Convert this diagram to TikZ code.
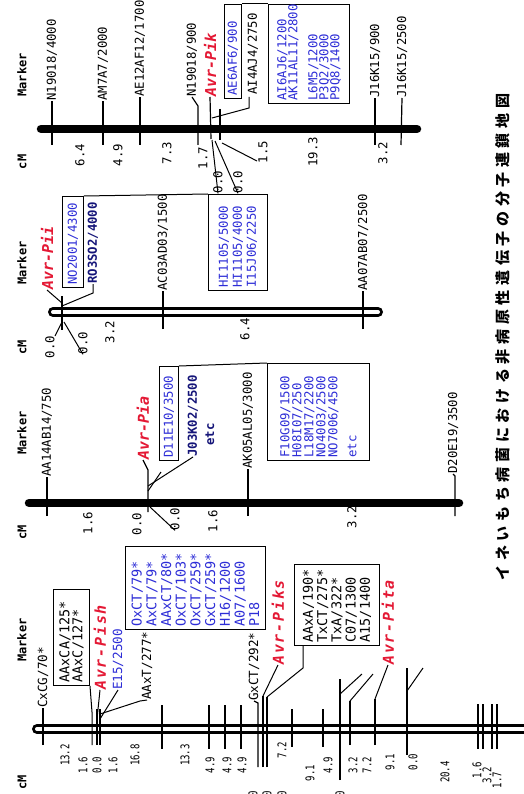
\documentclass[tikz,border=0pt]{standalone}
\usepackage{fontspec}
\setmainfont{DejaVu Sans Mono}
\newfontfamily\nmono[FakeStretch=0.75]{DejaVu Sans Mono}
\newfontfamily\avrsp[LetterSpace=12]{DejaVu Sans Mono}
\newfontfamily\cjk[LetterSpace=31]{Noto Sans CJK JP}
\definecolor{avrred}{RGB}{228,24,52}
\definecolor{mblue}{RGB}{45,45,215}
\definecolor{navy}{RGB}{20,20,120}
\begin{document}
\begin{tikzpicture}[x=1pt,y=-1pt,
  lbl/.style={rotate=90,anchor=west,inner sep=0pt,font=\fontsize{12.3}{13}\selectfont},
  lblb/.style={rotate=90,anchor=west,inner sep=0pt,font=\fontsize{12.6}{13}\selectfont},
  hdr/.style={rotate=90,inner sep=0pt,font=\bfseries\fontsize{12}{13}\selectfont},
  cmv/.style={rotate=90,inner sep=0pt,font=\fontsize{12.3}{13}\selectfont},
  cms/.style={rotate=90,inner sep=0pt,font=\nmono\fontsize{12}{13}\selectfont},
  avr/.style={rotate=90,anchor=west,inner sep=0pt,text=avrred,font=\bfseries\itshape\fontsize{15}{16}\selectfont},
  avrw/.style={rotate=90,anchor=west,inner sep=0pt,text=avrred,font=\avrsp\bfseries\itshape\fontsize{15}{16}\selectfont},
  blu/.style={text=mblue},
  nvy/.style={text=navy,font=\bfseries\fontsize{12.3}{13}\selectfont},
  boxn/.style={draw,line width=1pt,rotate=90,anchor=north west,inner xsep=3pt,inner ysep=0pt,align=left},
  tk/.style={line width=1.2pt},
  ln/.style={line width=1pt},
  solidbar/.style={line width=8.5pt,line cap=round},
  hollowout/.style={line width=10pt,line cap=round},
  hollowin/.style={line width=4pt,line cap=round,white},
]
\useasboundingbox (0,0) rectangle (523,794);
\fill[white] (0,0) rectangle (523,794);

% ================= Chromosome 4 (Avr-Pik) =================
\draw[solidbar] (41,129) -- (417,129);
\node[hdr] (m4) at (22,75) {Marker};
\node[hdr] (c4) at (22,162) {cM};
\node[lbl] (a41) at (52,101) {N19018/4000};
\node[lbl] (a42) at (103,101) {AM7A7/2000};
\node[lbl] (a43) at (140,97) {AE12AF12/1700};
\node[lbl] (a44) at (192,97) {N19018/900};
\node[avr] (a45) at (210,97) {Avr-Pik};
\node[boxn,blu,font=\fontsize{12.3}{13}\selectfont,text width=88pt,minimum height=17pt] (a46) at (224,99) {AE6AF6/900};
\node[lbl] (a47) at (253,95) {AI4AJ4/2750};
\node[boxn,blu,font=\fontsize{12.3}{11}\selectfont,text width=93pt,minimum height=81pt] (a48) at (268,104) {AI6AJ6/1200\\AK11AL11/2800\\[9pt]L6M5/1200\\P3Q2/3000\\P9Q8/1400};
\node[lbl] (a49) at (375,98) {J16K15/900};
\node[lbl] (a410) at (402,98) {J16K15/2500};
\draw[tk] (52,145) -- (a41.west);
\draw[tk] (103,145) -- (a42.west);
\draw[tk] (140,145) -- (a43.west);
\draw[tk] (198,145) -- (198,106) -- (a44.west);
\draw[tk] (211,139) -- (a45.west);
\draw[ln] (212,118) -- (249,108) -- (249,97);
\draw[tk] (220,109) -- (220,140);
\draw[tk] (375,145) -- (a49.west);
\draw[tk] (401,145) -- (a410.west);
\draw[ln] (a46.south east) -- (a48.north east);
\node[cmv] (d41) at (80,155) {6.4};
\node[cmv] (d42) at (118,155) {4.9};
\node[cmv] (d43) at (167,153) {7.3};
\node[cmv] (d44) at (203,158) {1.7};
\node[cmv] (d45) at (218,182) {0.0};
\node[cmv] (d46) at (238,182) {0.0};
\node[cmv] (d47) at (263,152) {1.5};
\node[cmv] (d48) at (313,152) {19.3};
\node[cmv] (d49) at (383,153) {3.2};
\draw[ln] (d45.west) -- (212,140);
\draw[ln] (d46.west) -- (215,141);
\draw[ln] (257,161) -- (222,143);

% ================= Chromosome 3 (Avr-Pii) =================
\draw[hollowout] (53,312) -- (378,312);
\draw[hollowin] (53,312) -- (378,312);
\node[hdr] (m3) at (22,263) {Marker};
\node[hdr] (c3) at (22,347) {cM};
\node[avr] (a31) at (47,290) {Avr-Pii};
\node[boxn,blu,font=\fontsize{12.3}{13}\selectfont,text width=85pt,minimum height=21pt] (a32) at (62,288) {NO2001/4300};
\node[lblb,nvy,anchor=west] (a33) at (93,284) {RO3SO2/4000};
\node[lbl] (a34) at (163,291) {AC03AD03/1500};
\node[boxn,blu,font=\fontsize{12.3}{14}\selectfont,text width=90pt,minimum height=59pt] (a35) at (208,291) {HI1105/5000\\HI1105/4000\\I15J06/2250};
\node[lbl] (a36) at (363,291) {AA07AB07/2500};
\draw[tk] (62,296) -- (62,330);
\draw[ln] (a31.west) -- (62,303);
\draw[ln] (a33.west) -- (93,293) -- (62,306);
\draw[ln] (a32.south east) -- (a35.north east);
\draw[tk] (163,329) -- (a34.west);
\draw[tk] (363,329) -- (a36.west);
\node[cmv] (d31) at (50,347) {0.0};
\node[cmv] (d32) at (83,343) {0.0};
\node[cmv] (d33) at (110,332) {3.2};
\node[cmv] (d34) at (245,329) {6.4};
\draw[ln] (55,336) -- (62,322);
\draw[ln] (d32.west) -- (64,322);

% ================= Chromosome 2 (Avr-Pia) =================
\draw[solidbar] (29,503) -- (459,503);
\node[hdr] (m2) at (22,433) {Marker};
\node[hdr] (c2) at (22,532) {cM};
\node[lbl] (a21) at (47,477) {AA14AB14/750};
\node[avr] (a22) at (143,460) {Avr-Pia};
\node[boxn,blu,font=\fontsize{12.3}{13}\selectfont,text width=88pt,minimum height=19pt] (a23) at (159,461) {D11E10/3500};
\node[lbl,nvy,anchor=west] (a24) at (193,457) {J03K02/2500};
\node[lbl,nvy,anchor=west] (a25) at (210,446) {etc};
\node[lbl] (a26) at (248,469) {AK05AL05/3000};
\node[boxn,blu,font=\fontsize{12.3}{12}\selectfont,text width=91pt,minimum height=102pt] (a27) at (267,461) {F10G09/1500\\H08I07/250\\L18M17/2200\\NO4003/2500\\NO7006/4500\\[7pt]etc};
\node[lbl] (a28) at (453,474) {D20E19/3500};
\draw[tk] (47,516) -- (a21.west);
\draw[tk] (148,512) -- (148,470) -- (a22.west);
\draw[ln] (148,491) -- (161,472);
\draw[ln] (148,486) -- (a24.west);
\draw[ln] (a23.south east) -- (a27.north east);
\draw[tk] (248,516) -- (a26.west);
\draw[tk] (455,516) -- (455,476) -- (a28.west);
\node[cmv] (d21) at (88,523) {1.6};
\node[cmv] (d22) at (137,524) {0.0};
\node[cmv] (d23) at (175,519) {0.0};
\node[cmv] (d24) at (213,521) {1.6};
\node[cmv] (d25) at (352,517) {3.2};
\draw[ln] (150,507) -- (d23.west);

% ================= Chromosome 1 (Avr-Pish/Piks/Pita) =================
\draw[hollowout] (37,729) -- (540,729);
\draw[hollowin] (37,729) -- (540,729);
\node[hdr] (m1) at (22,640) {Marker};
\node[hdr] (c1) at (22,782) {cM};
\node[lblb] (b1) at (43,708) {CxCG/70*};
\node[boxn,font=\fontsize{13.5}{13}\selectfont,text width=90pt,minimum height=36pt] (b2) at (53,686) {AAxCA/125*\\AAxC/127*};
\node[avrw] (b3) at (100,690) {Avr-Pish};
\node[lblb,blu] (b4) at (118,690) {E15/2500};
\node[lblb] (b5) at (147,700) {AAxT/277*};
\node[boxn,blu,font=\fontsize{13.5}{14.7}\selectfont,text width=77pt,minimum height=140pt] (b6) at (125,630) {OxCT/79*\\AxCT/79*\\AAxCT/80*\\OxCT/103*\\OxCT/259*\\GxCT/259*\\H16/1200\\A07/1600\\P18};
\node[lblb] (b7) at (254,701) {GxCT/292*};
\node[avrw] (b8) at (278,665) {Avr-Piks};
\node[boxn,font=\fontsize{13.5}{14.3}\selectfont,text width=75pt,minimum height=85pt] (b9) at (294,646) {AAxA/190*\\TxCT/275*\\TxA/322*\\C07/1300\\A15/1400};
\node[avrw] (b10) at (388,665) {Avr-Pita};
\draw[tk] (43,745) -- (b1.west);
\draw[ln] (b2.south west) -- (92,712) -- (92,745);
\draw[tk] (97,709) -- (97,745);
\draw[tk] (100,709) -- (100,745);
\draw[ln] (97,719) -- (b3.west);
\draw[ln] (100,719) -- (b4.west);
\draw[ln] (100,714) -- (140,701) -- (b5.west);
\foreach \x in {162,209,225,241}{\draw[tk] (\x,705) -- (\x,749);}
\foreach \x in {292,323}{\draw[tk] (\x,709) -- (\x,747);}
\foreach \x in {478,483,492,497}{\draw[tk] (\x,704) -- (\x,749);}
\draw[tk] (258,767) -- (258,703) -- (b7.west);
\draw[tk] (263,767) -- (263,696);
\draw[ln] (263,696) -- (b8.west);
\draw[tk] (267,767) -- (267,697);
\draw[ln] (267,697) -- (303,668) -- ([xshift=9pt]b9.north west);
\draw[tk] (340,780) -- (340,679);
\draw[ln] (340,694) -- (362,674);
\draw[tk] (350,745) -- (350,701);
\draw[ln] (350,701) -- (373,674);
\draw[tk] (375,745) -- (375,699);
\draw[ln] (375,699) -- (b10.west);
\draw[tk] (407,755) -- (407,668);
\draw[ln] (407,691) -- (423,668);
\foreach \x/\y/\v [count=\i] in {65/755/13.2,83/765/1.6,97/765/0.0,113/765/1.6,135/755/16.8,185/755/13.3,210/765/4.9,227/765/4.9,242/765/4.9,282/750/7.2,310/773/9.1,328/765/4.9,353/765/3.2,367/765/7.2,390/762/9.1,413/762/0.0,445/772/20.4,477/770/1.6,487/775/3.2,497/780/1.7,253/799/0.0,267/799/0.0,282/799/0.0,340/799/0.0}{\node[cms] (e\i) at (\x,\y) {\v};}

% ================= Title =================
\node[rotate=90,font=\cjk\bfseries\fontsize{15}{15}\selectfont] (title) at (503,337) {イネいもち病菌における非病原性遺伝子の分子連鎖地図};
\end{tikzpicture}
\end{document}
